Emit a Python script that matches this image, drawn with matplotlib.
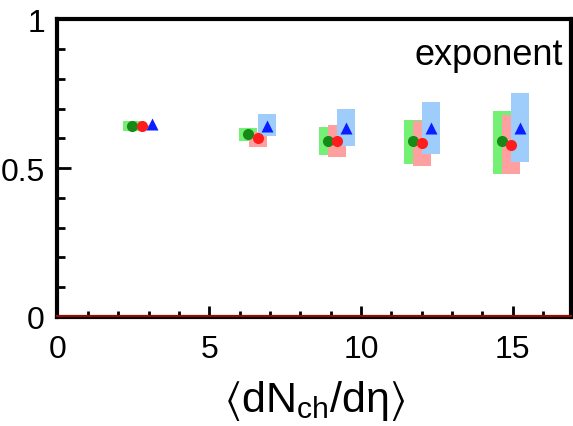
import matplotlib
matplotlib.use("Agg")
import matplotlib.pyplot as plt
from matplotlib.ticker import MultipleLocator

plt.rcParams['font.family'] = ['Liberation Sans', 'DejaVu Sans']
plt.rcParams['mathtext.fontset'] = 'custom'
plt.rcParams['mathtext.rm'] = 'Liberation Sans'
plt.rcParams['mathtext.it'] = 'Liberation Sans'
plt.rcParams['mathtext.default'] = 'regular'

# data
x_green = [2.45, 6.28, 8.91, 11.71, 14.65]
y_green = [0.642, 0.615, 0.592, 0.592, 0.592]
green_lo = [0.625, 0.592, 0.545, 0.514, 0.481]
green_hi = [0.659, 0.635, 0.639, 0.662, 0.692]

x_red = [2.78, 6.61, 9.21, 12.00, 14.94]
y_red = [0.642, 0.602, 0.592, 0.585, 0.578]
red_lo = [0.638, 0.571, 0.538, 0.508, 0.481]
red_hi = [0.646, 0.622, 0.645, 0.659, 0.679]

x_blue = [3.11, 6.90, 9.51, 12.30, 15.24]
y_blue = [0.649, 0.642, 0.635, 0.635, 0.635]
blue_lo = [0.649, 0.608, 0.575, 0.548, 0.521]
blue_hi = [0.649, 0.682, 0.699, 0.723, 0.753]

xticks = [0, 5, 10, 15]
yticks = [0, 0.5, 1]
ytick_labels = ['0', '0.5', '1']

fig = plt.figure(figsize=(5.73, 4.27), dpi=100)
ax = fig.add_axes([0.1003, 0.2553, 0.8962, 0.6967])

bw = 0.6
for xs, lo, hi, c in [(x_green, green_lo, green_hi, '#74f074'),
                      (x_red, red_lo, red_hi, '#ffa0a0'),
                      (x_blue, blue_lo, blue_hi, '#9ecdfb')]:
    ax.bar(xs, [h - l for h, l in zip(hi, lo)], bottom=lo, width=bw,
           color=c, edgecolor='none', zorder=1)

ax.plot(x_green, y_green, 'o', color='#158a15', ms=8, mec='none', zorder=3)
ax.plot(x_red, y_red, 'o', color='#ff1c1c', ms=8, mec='none', zorder=3)
ax.plot(x_blue, y_blue, '^', color='#0a1eff', ms=8, mec='none', zorder=3)

ax.axhline(0.003, color='#b00000', lw=1.4, zorder=4, clip_on=False)

ax.set_xlim(0, 16.92)
ax.set_ylim(0, 1)
ax.set_xticks(xticks)
ax.set_xticklabels([str(t) for t in xticks])
ax.set_yticks(yticks)
ax.set_yticklabels(ytick_labels)
ax.xaxis.set_minor_locator(MultipleLocator(1))
ax.yaxis.set_minor_locator(MultipleLocator(0.1))
ax.tick_params(which='both', direction='in', top=False, right=False,
               width=2, labelsize=23)
ax.tick_params(axis='x', which='major', length=8, pad=12)
ax.tick_params(axis='x', which='minor', length=4)
ax.tick_params(axis='y', which='major', length=10, pad=9)
ax.tick_params(axis='y', which='minor', length=6)
for s in ax.spines.values():
    s.set_linewidth(3)

ax.text(0.985, 0.94, 'exponent', transform=ax.transAxes, ha='right', va='top',
        fontsize=26)
ax.set_xlabel(r'$\langle$dN$_{ch}$/d$\eta\rangle$', fontsize=31, labelpad=10)

fig.savefig('out.png', dpi=100)
